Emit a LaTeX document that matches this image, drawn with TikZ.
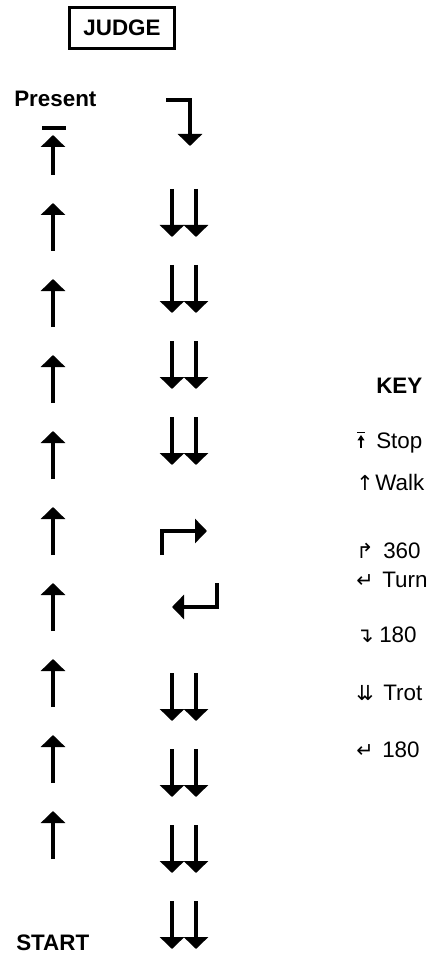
\documentclass[tikz,border=0pt]{standalone}
\usepackage{fontspec}
\setmainfont{Liberation Sans}
\newfontfamily\symfont{DejaVu Sans}
\usetikzlibrary{positioning,arrows.meta}
\tikzstyle{walk}=[line width=3pt, -{Triangle[width=18pt,length=9pt]}]
\tikzstyle{bar}=[line width=3pt]
\tikzstyle{kicon}=[line width=1.1pt]
\tikzstyle{btext}=[inner sep=0pt, font=\fontsize{16.8}{20}\selectfont\bfseries]
\tikzstyle{ktext}=[inner sep=0pt, anchor=base west, font=\fontsize{16.8}{20}\selectfont]
\newcommand{\keysym}[2]{\makebox[#1][l]{\symfont\fontsize{15.5}{18}\selectfont #2}}

\begin{document}
\begin{tikzpicture}[x=0.75pt,y=-0.75pt]
    \useasboundingbox (0,0) rectangle (430,955);

    \node (judge) [btext, draw, line width=2.25pt, minimum width=78.75pt, minimum height=30.75pt] at (122,28) {JUDGE};
    \node (present) [btext, anchor=base west] at (14,107) {Present};
    \node (start) [btext, anchor=base west] at (16,950) {START};

% walk column
    \draw[bar] (42,128) -- (66,128);
    \draw[walk] (53,175) -- (53,135);
    \foreach \k in {0,...,8}
        \draw[walk] (53,251+76*\k) -- (53,203+76*\k);

% trot column
    \draw[walk] (166,100.5) -- (190,100.5) -- (190,146);
    \foreach \k in {0,...,3} {
        \draw[walk] (172,189+76*\k) -- (172,237+76*\k);
        \draw[walk] (196,189+76*\k) -- (196,237+76*\k);
    }
    \draw[walk] (162,555) -- (162,531) -- (207,531);
    \draw[walk] (217,583) -- (217,607) -- (172,607);
    \foreach \k in {0,...,3} {
        \draw[walk] (172,673+76*\k) -- (172,721+76*\k);
        \draw[walk] (196,673+76*\k) -- (196,721+76*\k);
    }

% key
    \node (key) [btext, anchor=base west] at (376,393) {KEY};
    \node (kstop) [ktext] at (376,448) {Stop};
    \draw[kicon] (357,432.5) -- (365,432.5);
    \draw[kicon, -{Triangle[width=5pt,length=4pt]}] (361,448) -- (361,435);
    \node (kwalk) [ktext] at (356,490) {\keysym{14.25pt}{↑}Walk};
    \node (kcirc) [ktext] at (356,558) {\keysym{20.25pt}{↱}360};
    \node (kturn) [ktext] at (356,587) {\keysym{19.5pt}{↵}Turn};
    \node (khalf) [ktext] at (356,642) {\keysym{17.25pt}{↴}180};
    \node (ktrot) [ktext] at (356,700) {\keysym{20.25pt}{⇊}Trot};
    \node (kback) [ktext] at (356,757) {\keysym{19.5pt}{↵}180};
\end{tikzpicture}
\end{document}
